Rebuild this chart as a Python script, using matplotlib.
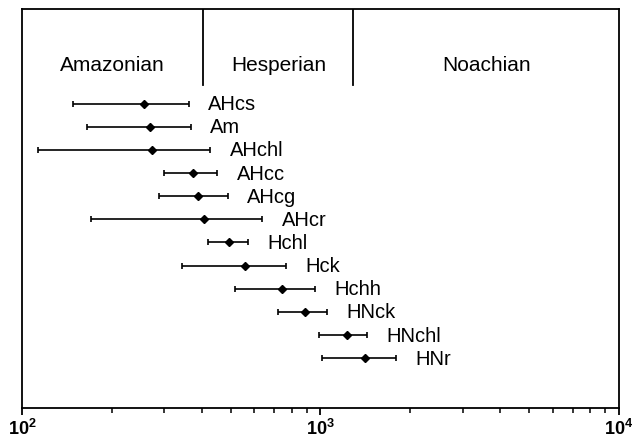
import numpy as np
import matplotlib
matplotlib.use('Agg')
import matplotlib.pyplot as plt
from matplotlib.ticker import LogLocator, NullFormatter

plt.rcParams['font.family'] = ['Liberation Sans', 'DejaVu Sans']
plt.rcParams['mathtext.default'] = 'regular'

# units, top to bottom
units = ['AHcs', 'Am', 'AHchl', 'AHcc', 'AHcg', 'AHcr', 'Hchl', 'Hck',
         'Hchh', 'HNck', 'HNchl', 'HNr']
center = [256, 268, 272, 375, 390, 407, 495, 558, 743, 889, 1224, 1410]
low = [148, 165, 113, 298, 288, 170, 420, 344, 517, 722, 986, 1009]
high = [362, 368, 427, 451, 489, 638, 572, 764, 961, 1049, 1428, 1795]

# period boundaries and names
bounds = [405, 1290]
periods = ['Amazonian', 'Hesperian', 'Noachian']
xmin, xmax = 100, 10000

fig = plt.figure(figsize=(6.38, 4.39), dpi=100)
ax = fig.add_axes([0.0345, 0.0683, 0.9355, 0.9097])

y = np.arange(len(units))
c = np.array(center)
err = [c - np.array(low), np.array(high) - c]
ax.errorbar(c, y, xerr=err, fmt='D', color='black', ms=4.5, lw=1.2,
            capsize=2.5, capthick=1.2, elinewidth=1.2)
for i, u in enumerate(units):
    ax.annotate(u, (high[i], y[i]), xytext=(14, 0), textcoords='offset points',
                va='center', ha='left', fontsize=14.5)

ax.set_xscale('log')
ax.set_xlim(xmin, xmax)
ax.set_ylim(13.15, -4.10)

top = 0.8085
for b in bounds:
    ax.axvline(b, ymin=top, ymax=1, color='black', lw=1.3)
edges = [xmin] + bounds + [xmax]
for i, p in enumerate(periods):
    xm = np.sqrt(edges[i] * edges[i + 1])
    ax.text(xm, 0.861, p, transform=ax.get_xaxis_transform(), ha='center',
            va='center', fontsize=15)

ax.set_yticks([])
ax.xaxis.set_major_locator(LogLocator(base=10))
ax.xaxis.set_minor_locator(LogLocator(base=10, subs=np.arange(2, 10)))
ax.xaxis.set_minor_formatter(NullFormatter())
ax.tick_params(axis='x', which='major', direction='out', length=5, width=1.3,
               labelsize=13, pad=2)
ax.tick_params(axis='x', which='minor', direction='out', length=3.5, width=1.1)
for lab in ax.get_xticklabels():
    lab.set_fontweight('bold')
for s in ax.spines.values():
    s.set_linewidth(1.3)

fig.savefig('out.png', dpi=100)
